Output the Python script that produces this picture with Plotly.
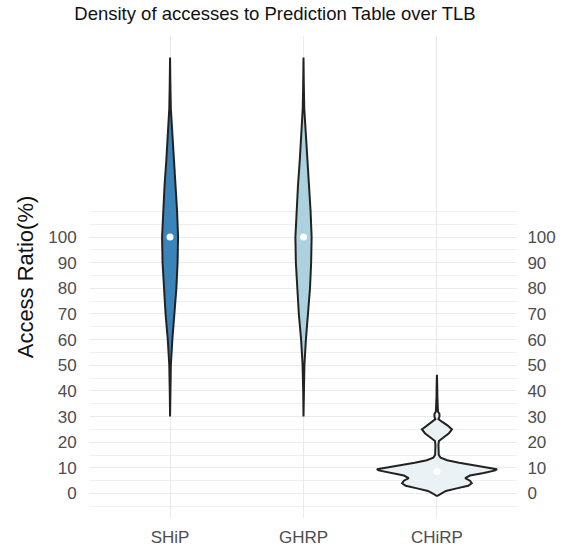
import plotly.graph_objects as go

# ---- data ----
categories = ["SHiP", "GHRP", "CHiRP"]
fill_colors = ["#3A84BA", "#ABD2DE", "#EAF2F6"]

ship_y = [30, 40, 50, 60, 70, 80, 90, 100, 110, 120, 130, 140, 150, 160, 170]
ship_d = [0.0, 0.005, 0.013, 0.038, 0.075, 0.105, 0.125, 0.133, 0.117, 0.092, 0.062, 0.033, 0.013, 0.005, 0.0]

ghrp_y = [30, 40, 50, 60, 70, 80, 90, 100, 110, 120, 130, 140, 150, 160, 170]
ghrp_d = [0.0, 0.005, 0.015, 0.040, 0.078, 0.108, 0.127, 0.135, 0.118, 0.092, 0.062, 0.033, 0.013, 0.005, 0.0]

chirp_y = [-1, 0, 1, 2, 3, 4, 5, 6, 7, 8, 9, 9.5, 10, 11, 12, 13, 14, 15, 17, 19,
           20.5, 22, 23.5, 25, 26.5, 28, 29, 30, 31, 32, 34, 38, 42, 46.3]
chirp_d = [0.0, 0.067, 0.15, 0.33, 0.52, 0.58, 0.55, 0.47, 0.55, 0.78, 0.97, 1.0, 0.87,
           0.60, 0.37, 0.17, 0.06, 0.03, 0.025, 0.025, 0.033, 0.12, 0.20, 0.25, 0.18,
           0.083, 0.025, 0.042, 0.042, 0.017, 0.01, 0.007, 0.005, 0.0]

medians = [100, 100, 8.6]

y_major = list(range(0, 101, 10))
y_minor = list(range(-5, 111, 5))

# ---- figure ----
WIDTH_SCALE = 0.45  # half-width (category units) for density 1.0
fig = go.Figure()

profiles = [(ship_y, ship_d), (ghrp_y, ghrp_d), (chirp_y, chirp_d)]
for i, (ys, ds) in enumerate(profiles):
    pos = i + 1
    xr = [pos + d * WIDTH_SCALE for d in ds]
    xl = [pos - d * WIDTH_SCALE for d in ds]
    xs = xr + xl[::-1] + [xr[0]]
    yy = list(ys) + list(ys)[::-1] + [ys[0]]
    fig.add_trace(go.Scatter(
        x=xs, y=yy, mode="lines", fill="toself",
        fillcolor=fill_colors[i],
        line=dict(color="#222222", width=2),
        showlegend=False, hoverinfo="skip"))

fig.add_trace(go.Scatter(
    x=[1, 2, 3], y=medians, mode="markers",
    marker=dict(color="white", size=7),
    showlegend=False, hoverinfo="skip"))

# invisible trace for right axis
fig.add_trace(go.Scatter(x=[1], y=[0], yaxis="y2", mode="markers",
                         marker=dict(opacity=0), showlegend=False, hoverinfo="skip"))

yrange = [-9.55, 178.4]
font_family = "Liberation Sans, Arial, sans-serif"

fig.update_layout(
    width=570, height=550,
    margin=dict(l=90, r=53, t=36, b=32),
    paper_bgcolor="white", plot_bgcolor="white",
    font=dict(family=font_family),
    title=dict(text="Density of accesses to Prediction Table over TLB",
               x=275 / 570, xanchor="center", y=1 - 14 / 550, yanchor="middle",
               font=dict(size=18.5, color="#111111", family=font_family)),
    xaxis=dict(range=[0.4, 3.6], tickvals=[1, 2, 3], ticktext=categories,
               showgrid=True, gridcolor="#EBEBEB", gridwidth=1.3,
               zeroline=False, showline=False, automargin=False,
               ticks="outside", ticklen=4, tickcolor="rgba(0,0,0,0)",
               tickfont=dict(size=17, color="#4D4D4D")),
    yaxis=dict(range=yrange, tickvals=y_major, ticktext=[str(v) for v in y_major],
               showgrid=True, gridcolor="#EBEBEB", gridwidth=1.3,
               minor=dict(tickvals=y_minor, showgrid=True, gridcolor="#EFEFEF", gridwidth=0.7),
               zeroline=False, showline=False, automargin=False,
               ticks="outside", ticklen=9, tickcolor="rgba(0,0,0,0)",
               tickfont=dict(size=17, color="#4D4D4D"),
               title=dict(text="Access Ratio(%)", font=dict(size=22, color="#111111"),
                          standoff=8)),
    yaxis2=dict(range=yrange, overlaying="y", side="right",
                tickvals=y_major, ticktext=[str(v) for v in y_major],
                showgrid=False, zeroline=False, showline=False, automargin=False,
                ticks="outside", ticklen=6, tickcolor="rgba(0,0,0,0)",
                tickfont=dict(size=17, color="#4D4D4D")),
)

fig.write_html("out.html")
